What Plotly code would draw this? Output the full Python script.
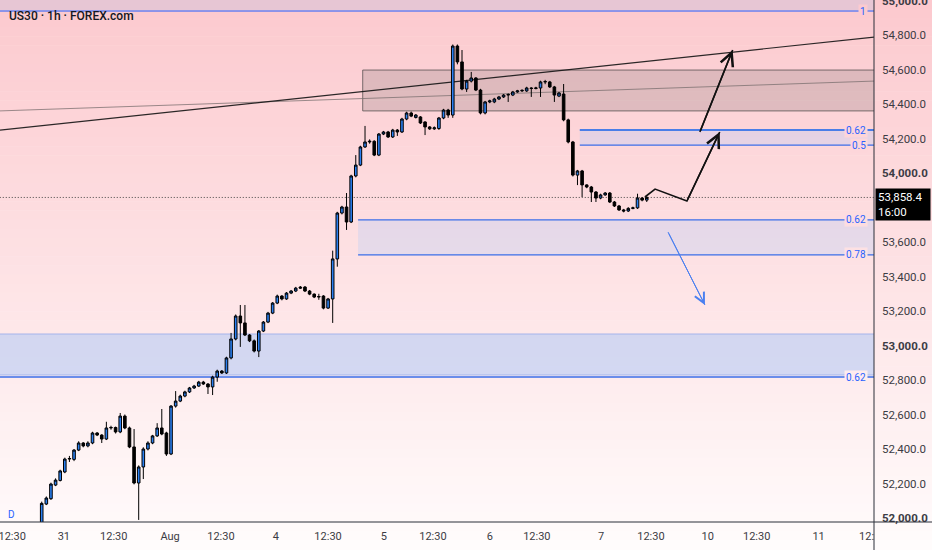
import plotly.graph_objects as go

# ---------------- data ----------------
title_text = "US30 · 1h · FOREX.com"
interval_label = "D"

opens = [51960, 52081, 52112, 52191, 52218, 52267, 52342, 52340, 52394, 52435,
         52418, 52435, 52493, 52481, 52458, 52522, 52525, 52499, 52591, 52522,
         52412, 52203, 52296, 52400, 52435, 52476, 52522, 52493, 52371, 52649,
         52678, 52707, 52731, 52754, 52765, 52788, 52777, 52760, 52817, 52852,
         52841, 52928, 53038, 53171, 53131, 53061, 53027, 52968, 53084, 53136,
         53188, 53246, 53287, 53270, 53304, 53316, 53339, 53339, 53316, 53298,
         53281, 53287, 53217, 53270, 53502, 53768, 53803, 53716, 53983, 54046,
         54151, 54180, 54184, 54104, 54226, 54238, 54209, 54249, 54238, 54313,
         54348, 54322, 54325, 54296, 54267, 54256, 54258, 54319, 54365, 54336,
         54736, 54644, 54487, 54533, 54551, 54481, 54348, 54412, 54412, 54429,
         54441, 54452, 54452, 54470, 54476, 54476, 54493, 54490, 54493, 54528,
         54528, 54499, 54446, 54458, 54308, 54180, 53988, 54012, 53931, 53919,
         53890, 53855, 53873, 53884, 53832, 53809, 53786, 53780, 53795, 53798,
         53855, 53843]
highs = [52095, 52125, 52205, 52230, 52280, 52350, 52360, 52400, 52445, 52440,
         52445, 52500, 52498, 52486, 52558, 52535, 52530, 52609, 52600, 52530,
         52516, 52305, 52410, 52445, 52482, 52550, 52632, 52500, 52655, 52736,
         52715, 52738, 52760, 52772, 52795, 52795, 52782, 52825, 52860, 52858,
         52935, 53073, 53180, 53235, 53235, 53066, 53035, 53090, 53142, 53195,
         53252, 53295, 53292, 53310, 53322, 53340, 53345, 53345, 53322, 53302,
         53300, 53292, 53276, 53550, 53775, 53810, 53884, 53990, 54104, 54158,
         54273, 54195, 54190, 54232, 54244, 54244, 54256, 54255, 54320, 54355,
         54356, 54342, 54330, 54300, 54272, 54270, 54325, 54372, 54372, 54745,
         54745, 54713, 54540, 54586, 54556, 54488, 54418, 54425, 54436, 54447,
         54458, 54462, 54476, 54482, 54485, 54500, 54498, 54500, 54535, 54540,
         54534, 54505, 54470, 54516, 54315, 54186, 54018, 54018, 53935, 53925,
         53895, 53880, 53890, 53890, 53838, 53815, 53792, 53802, 53805, 53880,
         53860, 53866]
lows = [51950, 52075, 52105, 52185, 52212, 52260, 52325, 52330, 52388, 52410,
        52410, 52428, 52475, 52435, 52452, 52512, 52490, 52492, 52515, 52405,
        52195, 51989, 52226, 52392, 52428, 52470, 52480, 52360, 52365, 52640,
        52672, 52700, 52725, 52748, 52760, 52772, 52719, 52713, 52790, 52835,
        52835, 52920, 53030, 52992, 53055, 53020, 52960, 52933, 53078, 53130,
        53182, 53240, 53262, 53265, 53298, 53310, 53328, 53310, 53292, 53275,
        53265, 53210, 53212, 53131, 53457, 53760, 53670, 53710, 53975, 54040,
        54145, 54170, 54098, 54098, 54220, 54203, 54203, 54215, 54232, 54306,
        54324, 54316, 54284, 54220, 54250, 54250, 54250, 54312, 54320, 54320,
        54630, 54480, 54470, 54525, 54475, 54340, 54340, 54405, 54405, 54423,
        54435, 54412, 54446, 54465, 54470, 54470, 54441, 54485, 54441, 54515,
        54493, 54412, 54440, 54300, 54172, 53980, 53930, 53861, 53912, 53832,
        53832, 53848, 53868, 53826, 53803, 53780, 53772, 53774, 53790, 53792,
        53836, 53832]
closes = [52085, 52116, 52197, 52220, 52273, 52342, 52345, 52394, 52435, 52418,
          52435, 52493, 52481, 52458, 52522, 52525, 52499, 52591, 52522, 52412,
          52203, 52296, 52400, 52435, 52476, 52522, 52487, 52371, 52649, 52678,
          52707, 52731, 52754, 52765, 52788, 52777, 52760, 52817, 52852, 52841,
          52928, 53038, 53171, 53131, 53061, 53027, 52968, 53084, 53136, 53188,
          53246, 53287, 53270, 53304, 53316, 53333, 53333, 53316, 53298, 53281,
          53284, 53217, 53270, 53502, 53768, 53803, 53716, 53983, 54046, 54151,
          54180, 54184, 54104, 54226, 54238, 54209, 54249, 54238, 54313, 54348,
          54330, 54336, 54290, 54267, 54256, 54262, 54319, 54365, 54336, 54736,
          54644, 54487, 54533, 54551, 54481, 54348, 54412, 54418, 54429, 54441,
          54452, 54455, 54470, 54476, 54479, 54493, 54490, 54493, 54528, 54530,
          54499, 54452, 54464, 54308, 54180, 53988, 54012, 53931, 53919, 53890,
          53855, 53873, 53884, 53832, 53809, 53786, 53780, 53795, 53798, 53855,
          53843, 53858.4]
bar_index = list(range(len(opens)))

# time axis (bar-index positions of the date / time labels)
x_tick_vals = [-6.4, 4.8, 15.6, 27.8, 38.8, 50.7, 62.0, 74.1, 84.7, 97.0,
               107.2, 121.1, 131.9, 144.2, 154.8, 168.2, 178.6]
x_tick_labels = ["12:30", "31", "12:30", "Aug", "12:30", "4", "12:30", "5", "12:30", "6",
                 "12:30", "7", "12:30", "10", "12:30", "11", "12:"]
x_range = [-9.03, 180.2]

# price axis (53,800 sits under the last-price tag and is not shown)
y_tick_vals = [52000, 52200, 52400, 52600, 52800, 53000, 53200, 53400, 53600,
               54000, 54200, 54400, 54600, 54800, 55000]
y_range = [51977, 55003]

last_price = 53858.4
countdown = "16:00"

# drawings (bar index / price)
fib_one_level = 54939
fib_one_label = "1"
upper_zone = [54249, 54162]
upper_zone_labels = ["0.62", "0.5"]
upper_zone_start = 116.5
lower_zone = [53728, 53525]
lower_zone_labels = ["0.62", "0.78"]
lower_zone_start = 68.5
blue_zone = [53067, 52829]
blue_zone_level = 52817
blue_zone_label = "0.62"
supply_box = [54360, 54597]
supply_box_start = 69.5
trend_black_x = [-9.03, 180.2]
trend_black_y = [54249, 54788]
trend_gray_x = [-9.03, 180.2]
trend_gray_y = [54360, 54533]
path1_x = [130.6, 132.8, 139.7, 146.8]
path1_y = [53861, 53907, 53838, 54238]
path2_x = [142.5, 149.6]
path2_y = [54238, 54713]
path3_x = [135.6, 143.6]
path3_y = [53658, 53235]

# ---------------- styling ----------------
W, H = 932, 550
ML, MR, MT, MB = 0, 58, 0, 28
PW, PH = W - ML - MR, H - MT - MB
FONT = "Roboto"
FIB_BLUE = "#2962FF"
CANDLE_BLUE = "#2A80F2"
AXIS_COL = "#2a2e39"
TICK_COL = "#3c3c44"

top_rgb = (252, 201, 206)
bot_rgb = (255, 252, 252)


def grad(py):
    f = min(max(py / H, 0), 1)
    c = [round(top_rgb[i] + (bot_rgb[i] - top_rgb[i]) * f) for i in range(3)]
    return "rgb(%d,%d,%d)" % tuple(c)


def price_to_py(p):
    return (y_range[1] - p) / (y_range[1] - y_range[0]) * PH


shapes = []
n_bands = 60
for k in range(n_bands):
    py0 = H * k / n_bands
    py1 = H * (k + 1) / n_bands
    shapes.append(dict(type="rect", xref="paper", yref="paper",
                       x0=-0.01, x1=W / PW + 0.01,
                       y0=(PH - py1) / PH, y1=(PH - py0) / PH + 0.001,
                       fillcolor=grad((py0 + py1) / 2), line=dict(width=0), layer="below"))

# band above fib level 1
shapes.append(dict(type="rect", xref="x", yref="y", x0=x_range[0], x1=x_range[1] + 5,
                   y0=fib_one_level, y1=y_range[1] + 50,
                   fillcolor="rgba(160,185,235,0.22)", line=dict(width=0), layer="below"))
shapes.append(dict(type="line", xref="x", yref="y", x0=x_range[0], x1=x_range[1] + 5,
                   y0=fib_one_level, y1=fib_one_level,
                   line=dict(color=FIB_BLUE, width=1), layer="below"))

# blue demand zone (full width)
shapes.append(dict(type="rect", xref="x", yref="y", x0=x_range[0] - 2, x1=x_range[1] + 5,
                   y0=blue_zone[1], y1=blue_zone[0],
                   fillcolor="rgba(159,193,248,0.45)", line=dict(color="rgba(140,165,235,0.7)", width=1),
                   layer="below"))
shapes.append(dict(type="line", xref="x", yref="y", x0=x_range[0] - 2, x1=x_range[1] + 5,
                   y0=blue_zone_level, y1=blue_zone_level,
                   line=dict(color="#3a6ee8", width=1.5), layer="below"))

# lower fib zone
shapes.append(dict(type="rect", xref="x", yref="y", x0=lower_zone_start, x1=x_range[1] + 5,
                   y0=lower_zone[1], y1=lower_zone[0],
                   fillcolor="rgba(185,205,245,0.35)", line=dict(width=0), layer="below"))
for lv in lower_zone:
    shapes.append(dict(type="line", xref="x", yref="y", x0=lower_zone_start, x1=x_range[1] + 5,
                       y0=lv, y1=lv, line=dict(color="#3a6ee8", width=1.2), layer="below"))

# upper fib zone
shapes.append(dict(type="rect", xref="x", yref="y", x0=upper_zone_start, x1=x_range[1] + 5,
                   y0=upper_zone[1], y1=upper_zone[0],
                   fillcolor="rgba(185,205,245,0.35)", line=dict(width=0), layer="below"))
shapes.append(dict(type="line", xref="x", yref="y", x0=upper_zone_start, x1=x_range[1] + 5,
                   y0=upper_zone[0], y1=upper_zone[0], line=dict(color="#4a7ee8", width=2), layer="below"))
shapes.append(dict(type="line", xref="x", yref="y", x0=upper_zone_start, x1=x_range[1] + 5,
                   y0=upper_zone[1], y1=upper_zone[1], line=dict(color="#3a6ee8", width=1.2), layer="below"))

# supply box
shapes.append(dict(type="rect", xref="x", yref="y", x0=supply_box_start, x1=x_range[1] + 5,
                   y0=supply_box[0], y1=supply_box[1],
                   fillcolor="rgba(105,95,95,0.2)", line=dict(color="rgba(80,75,75,0.75)", width=1),
                   layer="below"))

# trend lines
shapes.append(dict(type="line", xref="x", yref="y", x0=trend_gray_x[0], x1=trend_gray_x[1],
                   y0=trend_gray_y[0], y1=trend_gray_y[1],
                   line=dict(color="rgba(120,110,110,0.75)", width=1), layer="below"))
shapes.append(dict(type="line", xref="x", yref="y", x0=trend_black_x[0], x1=trend_black_x[1],
                   y0=trend_black_y[0], y1=trend_black_y[1],
                   line=dict(color="rgba(20,20,20,0.9)", width=1.2), layer="below"))

# last price dotted line
shapes.append(dict(type="line", xref="x", yref="y", x0=x_range[0] - 2, x1=x_range[1] + 5,
                   y0=last_price, y1=last_price,
                   line=dict(color="#444", width=1, dash="1px,2px"), layer="below"))

# axis cross lines extending into margins
shapes.append(dict(type="line", xref="paper", yref="paper", x0=0, x1=W / PW + 0.01, y0=0, y1=0,
                   line=dict(color=AXIS_COL, width=1), layer="above"))
shapes.append(dict(type="line", xref="paper", yref="paper", x0=1, x1=1, y0=-MB / PH - 0.01, y1=1.01,
                   line=dict(color=AXIS_COL, width=1), layer="above"))

fig = go.Figure()
fig.add_trace(go.Candlestick(
    x=bar_index, open=opens, high=highs, low=lows, close=closes,
    increasing=dict(line=dict(color="#000000", width=1), fillcolor=CANDLE_BLUE),
    decreasing=dict(line=dict(color="#000000", width=1), fillcolor="#000000"),
    whiskerwidth=0, hoverinfo="skip", showlegend=False))

# arrow paths
fig.add_trace(go.Scatter(x=path1_x, y=path1_y, mode="lines",
                         line=dict(color="#111111", width=1.6), hoverinfo="skip", showlegend=False))
fig.add_trace(go.Scatter(x=path2_x, y=path2_y, mode="lines",
                         line=dict(color="#111111", width=1.6), hoverinfo="skip", showlegend=False))
fig.add_trace(go.Scatter(x=path3_x, y=path3_y, mode="lines",
                         line=dict(color="#4a7ff0", width=1), hoverinfo="skip", showlegend=False))

annotations = []


def arrowhead(xs, ys, color, width, size):
    annotations.append(dict(x=xs[-1], y=ys[-1], ax=xs[-2], ay=ys[-2], xref="x", yref="y",
                            axref="x", ayref="y", text="", showarrow=True, arrowhead=5,
                            arrowsize=size, arrowwidth=width, arrowcolor=color))


arrowhead(path1_x, path1_y, "#111111", 1.6, 1.6)
arrowhead(path2_x, path2_y, "#111111", 1.6, 1.6)
arrowhead(path3_x, path3_y, "#4a7ff0", 1, 2.0)


def fib_label(level, text):
    annotations.append(dict(xref="paper", yref="y", x=868 / PW, y=level, xanchor="right",
                            yanchor="middle", text=text, showarrow=False,
                            font=dict(family=FONT, size=10, color=FIB_BLUE),
                            bgcolor=grad(price_to_py(level)), borderpad=1))


fib_label(fib_one_level, fib_one_label)
for lv, t in zip(upper_zone, upper_zone_labels):
    fib_label(lv, t)
for lv, t in zip(lower_zone, lower_zone_labels):
    fib_label(lv, t)
fib_label(blue_zone_level, blue_zone_label)

# title
annotations.append(dict(xref="paper", yref="paper", x=7 / PW, y=1, xanchor="left", yanchor="top",
                        yshift=-7, text=title_text, showarrow=False,
                        font=dict(family=FONT, size=12, color="#131722", weight=500)))
annotations.append(dict(xref="paper", yref="paper", x=6 / PW, y=(PH - 514) / PH, xanchor="left",
                        yanchor="middle", text=interval_label, showarrow=False,
                        font=dict(family=FONT, size=10, color=FIB_BLUE)))

# last price tag
annotations.append(dict(xref="paper", yref="y", x=1, y=last_price, xanchor="left", yanchor="top",
                        xshift=1, yshift=9, text=f"{last_price:,.1f}<br>{countdown}",
                        showarrow=False, align="left", bgcolor="#000000", borderpad=2,
                        width=50, height=27,
                        font=dict(family=FONT, size=11.5, color="#ffffff")))

y_tick_text = [("<b>%s</b>" if v % 1000 == 0 else "%s") % f"{v:,.1f}" for v in y_tick_vals]

fig.update_layout(
    width=W, height=H,
    margin=dict(l=ML, r=MR, t=MT, b=MB, autoexpand=False),
    paper_bgcolor="#ffffff", plot_bgcolor="rgba(0,0,0,0)",
    shapes=shapes, annotations=annotations,
    boxgap=0.2,
    font=dict(family=FONT, size=11, color=TICK_COL),
    xaxis=dict(range=x_range, rangeslider=dict(visible=False), showgrid=False, zeroline=False,
               automargin=False,
               tickmode="array", tickvals=x_tick_vals, ticktext=x_tick_labels,
               ticks="", showline=False, ticklabeloverflow="allow", ticklabelstandoff=6,
               tickfont=dict(family=FONT, size=11, color=TICK_COL)),
    yaxis=dict(range=y_range, side="right", showgrid=False, zeroline=False,
               automargin=False,
               tickmode="array", tickvals=y_tick_vals, ticktext=y_tick_text,
               ticks="", showline=False, ticklabeloverflow="allow", ticklabelstandoff=7,
               tickfont=dict(family=FONT, size=11.5, color=TICK_COL)),
    hovermode=False,
)

fig.write_html("out.html", config={"displayModeBar": False},
               post_script="document.body.style.margin='0px';document.body.style.overflow='hidden';")
